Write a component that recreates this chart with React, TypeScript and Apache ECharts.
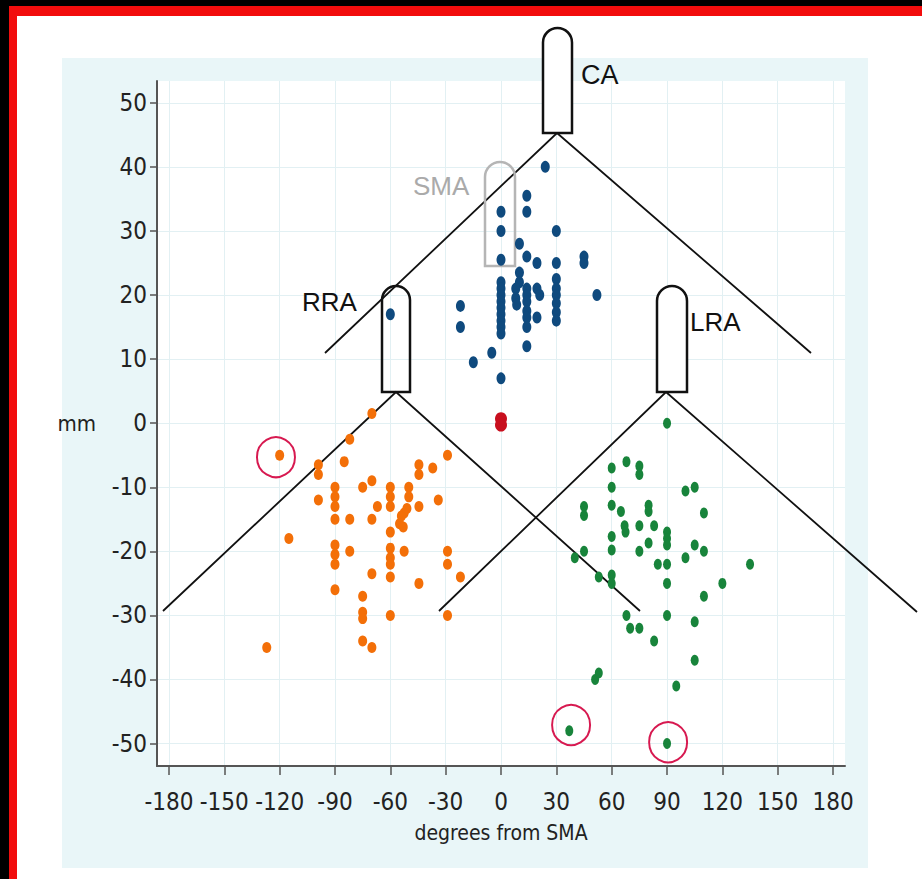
import React, { useEffect, useRef } from "react";
import * as echarts from "echarts";

const xTicks = [-180, -150, -120, -90, -60, -30, 0, 30, 60, 90, 120, 150, 180];
const yTicks = [-50, -40, -30, -20, -10, 0, 10, 20, 30, 40, 50];

// blue: SMA group (degrees from SMA, mm)
const smaPoints: number[][] = [
  [24, 40], [14, 35.5], [14, 33], [0, 33], [0, 30], [30, 30], [10, 28], [14, 26], [19.5, 25], [0, 25.5],
  [30, 25], [45, 26], [45, 25],
  [0, 22], [0, 21], [0, 20], [0, 19], [0, 18], [0, 17], [0, 16], [0, 15], [0, 14],
  [10, 23.5], [10, 22], [8, 21], [8, 19.5], [8.5, 18.5],
  [14, 21], [14, 20], [14, 19], [14, 17.5], [14, 16.5], [14, 15],
  [19.5, 21], [21, 20], [19.5, 16.5], [14, 12],
  [30, 22.5], [30, 21], [30, 20], [30, 18.7], [30, 17.3], [30, 16],
  [52, 20], [-22, 18.3], [-22, 15], [-5, 11], [-15, 9.5], [0, 7], [-60, 17],
];

// orange: RRA group
const rraPoints: number[][] = [
  [-70, 1.5], [-82, -2.5], [-120, -5], [-85, -6], [-99, -6.5], [-99, -8], [-29, -5], [-44.5, -6.5], [-44.5, -8],
  [-37, -7], [-70, -9], [-75, -10],
  [-90, -10], [-90, -11.5], [-90, -13], [-90, -15], [-99, -12], [-82, -15], [-70, -15], [-67, -13],
  [-60, -10], [-60, -11.5], [-60, -13], [-50, -10], [-50, -11.5], [-44.5, -13], [-34, -12],
  [-54, -14.5], [-52.5, -14], [-51, -13.3], [-55, -15.7], [-53, -16.2], [-60, -17], [-115, -18],
  [-90, -19], [-90, -20.5], [-90, -22], [-82, -20], [-60, -19.5], [-60, -21], [-60, -22], [-60, -24], [-52.5, -20],
  [-29, -20], [-29, -22], [-70, -23.5], [-44.5, -25], [-22, -24], [-90, -26], [-75, -27], [-75, -29.5], [-75, -30.5],
  [-60, -30], [-29, -30], [-127, -35], [-75, -34], [-70, -35],
];

// green: LRA group
const lraPoints: number[][] = [
  [90, 0], [68, -6], [60, -7], [75, -6.7], [75, -8], [60, -10], [100, -10.6], [105, -10], [45, -13], [45, -14.4],
  [60, -12.8], [65, -13.8], [80, -12.8], [80, -13.8], [110, -14], [67, -16], [67.5, -17], [75, -16], [83, -16],
  [90, -17], [90, -18], [90, -19], [60, -17.7], [60, -19.8], [80, -18.7], [75, -20], [45, -20], [40, -21],
  [105, -19], [110, -20], [100, -21], [85, -22], [90, -22], [135, -22], [53, -24], [60, -23.7], [60, -25],
  [90, -25], [120, -25], [110, -27], [68, -30], [90, -30], [105, -31], [70, -32], [75, -32], [83, -34],
  [105, -37], [51, -40], [53, -39], [95, -41], [37, -48], [90, -50],
];

// red: origin (SMA)
const originPoints: number[][] = [[0, 0.7], [0, -0.3]];

// circled outliers
const circledPoints: number[][] = [[-122, -5.3], [38, -47.1], [90.6, -49.8]];

const FONT_AXIS = "'DejaVu Sans Condensed', 'Liberation Sans Narrow', sans-serif";
const FONT_LABEL = "'Liberation Sans', Arial, sans-serif";

function catheter(x: number, y: number, w: number, h: number, stroke: string, fill: string) {
  return {
    type: "rect",
    z: 1,
    shape: { x, y, width: w, height: h, r: [w / 2, w / 2, 0, 0] },
    style: { fill, stroke, lineWidth: 2.5 },
  };
}

function vee(points: number[][]) {
  return {
    type: "polyline",
    z: 1,
    shape: { points },
    style: { stroke: "#111", lineWidth: 1.8, fill: "none" },
  };
}

function label(text: string, x: number, y: number, color: string, size: number) {
  return {
    type: "text",
    z: 6,
    x,
    y,
    style: {
      text,
      fill: color,
      fontSize: size,
      fontFamily: FONT_LABEL,
      align: "left",
      verticalAlign: "middle",
    },
  };
}

export default function App() {
  const ref = useRef<HTMLDivElement>(null);

  useEffect(() => {
    if (!ref.current) return;
    const chart = echarts.init(ref.current, undefined, { renderer: "svg" });

    const option: any = {
      animation: false,
      backgroundColor: "#000",
      grid: {
        left: 157,
        right: 77,
        top: 81,
        bottom: 113,
        show: true,
        backgroundColor: "#ffffff",
        borderWidth: 0,
        containLabel: false,
        outerBoundsMode: "none",
      },
      xAxis: {
        type: "value",
        min: -186.5,
        max: 186.5,
        name: "degrees from SMA",
        nameLocation: "middle",
        nameGap: 56,
        nameTextStyle: { fontFamily: FONT_AXIS, fontSize: 21, color: "#222" },
        axisLine: { show: true, onZero: false, lineStyle: { color: "#555", width: 2 } },
        axisTick: { show: true, customValues: xTicks, length: 9, lineStyle: { color: "#555", width: 1.5 } },
        axisLabel: { customValues: xTicks, margin: 24, fontFamily: FONT_AXIS, fontSize: 24, color: "#222" },
        splitLine: { show: true, lineStyle: { color: "#e2f0f3", width: 1 } },
      },
      yAxis: {
        type: "value",
        min: -53.5,
        max: 53.4,
        name: "mm",
        nameLocation: "middle",
        nameRotate: 0,
        nameGap: 61,
        nameTextStyle: { fontFamily: FONT_AXIS, fontSize: 22, color: "#222" },
        axisLine: { show: true, onZero: false, lineStyle: { color: "#555", width: 2 } },
        axisTick: { show: true, customValues: yTicks, length: 7, lineStyle: { color: "#555", width: 1.5 } },
        axisLabel: { customValues: yTicks, margin: 10, fontFamily: FONT_AXIS, fontSize: 24, color: "#222" },
        splitLine: { show: true, lineStyle: { color: "#e2f0f3", width: 1 } },
      },
      graphic: [
        { type: "rect", z: -3, shape: { x: 9, y: 6, width: 913, height: 873 }, style: { fill: "#f20d0d" } },
        { type: "rect", z: -2, shape: { x: 17, y: 16, width: 905, height: 863 }, style: { fill: "#ffffff" } },
        { type: "rect", z: -1, shape: { x: 62, y: 58, width: 806, height: 810 }, style: { fill: "#e9f6f8" } },
        vee([[325, 353], [557, 133], [811, 353]]),
        vee([[163, 611], [396, 392], [640, 611]]),
        vee([[439, 611], [666, 392], [917, 612]]),
        catheter(543, 28, 29, 105, "#111", "#ffffff"),
        catheter(485, 162, 30, 104, "#b5b5b5", "none"),
        catheter(382, 286, 28, 106, "#111", "none"),
        catheter(657, 286, 30, 106, "#111", "#ffffff"),
        label("CA", 581, 75, "#111", 27),
        label("SMA", 413, 186, "#aaaaaa", 26),
        label("RRA", 302, 302, "#111", 26),
        label("LRA", 690, 322, "#111", 26),
      ],
      series: [
        {
          type: "scatter",
          name: "SMA",
          data: smaPoints,
          symbol: "circle",
          symbolSize: [9, 12],
          itemStyle: { color: "#0f4a7e", opacity: 1 },
          z: 2,
        },
        {
          type: "scatter",
          name: "RRA",
          data: rraPoints,
          symbol: "circle",
          symbolSize: [9, 11],
          itemStyle: { color: "#f36f08", opacity: 1 },
          z: 2,
        },
        {
          type: "scatter",
          name: "LRA",
          data: lraPoints,
          symbol: "circle",
          symbolSize: [8, 11],
          itemStyle: { color: "#18843b", opacity: 1 },
          z: 2,
        },
        {
          type: "scatter",
          name: "origin",
          data: originPoints,
          symbol: "circle",
          symbolSize: [12, 13],
          itemStyle: { color: "#c80f1e", opacity: 1 },
          z: 2,
        },
        {
          type: "scatter",
          name: "circled",
          data: circledPoints,
          symbol: "circle",
          symbolSize: [38, 40],
          itemStyle: { color: "rgba(0,0,0,0)", borderColor: "#d71950", borderWidth: 2, opacity: 1 },
          z: 3,
          silent: true,
        },
      ],
    };

    chart.setOption(option);
    return () => chart.dispose();
  }, []);

  return (
    <div
      ref={ref}
      style={{ position: "absolute", left: 0, top: 0, width: 922, height: 879 }}
    />
  );
}
